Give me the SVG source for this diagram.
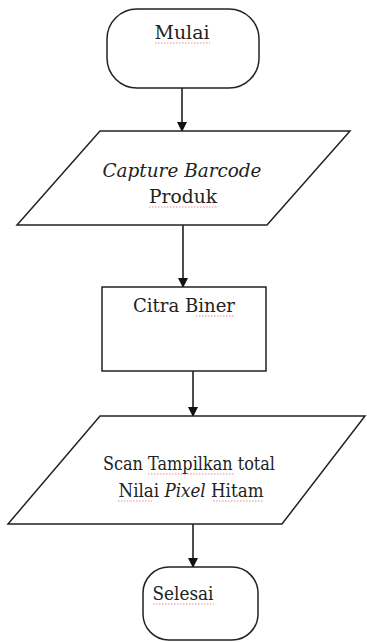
<svg xmlns="http://www.w3.org/2000/svg" width="367" height="642" viewBox="0 0 367 642">
<defs>
<marker id="ah" markerWidth="10" markerHeight="10" refX="9" refY="5" orient="auto" markerUnits="userSpaceOnUse"><path d="M0,0 L10,5 L0,10 Z" fill="#111"/></marker>
<style>
.s{fill:#fff;stroke:#222;stroke-width:1.5}
.t{font-family:'DejaVu Serif','Liberation Serif','Times New Roman',serif;font-size:18px;fill:#222;text-anchor:middle}
.i{font-style:italic}
.c{stroke:#111;stroke-width:1.5;fill:none}
.sq{stroke:#e04040;stroke-width:1;stroke-dasharray:1.5 1.5;fill:none;opacity:0.6}
</style>
</defs>
<rect width="367" height="642" fill="#fff"/>
<g id="connectors">
<line class="c" x1="182" y1="88" x2="182" y2="131" marker-end="url(#ah)"/>
<line class="c" x1="183" y1="225" x2="183" y2="287" marker-end="url(#ah)"/>
<line class="c" x1="193" y1="371" x2="193" y2="416" marker-end="url(#ah)"/>
<line class="c" x1="193" y1="524" x2="193" y2="567" marker-end="url(#ah)"/>
</g>
<g id="mulai">
<rect class="s" x="107" y="9" width="152" height="79" rx="30" ry="30"/>
<text class="t" x="182" y="39" textLength="55" lengthAdjust="spacingAndGlyphs">Mulai</text>
<line class="sq" x1="155" y1="43" x2="210" y2="43"/>
</g>
<g id="capture">
<polygon class="s" points="100,131 350,131 267,225 17,225"/>
<text class="t i" x="182" y="177" textLength="159" lengthAdjust="spacingAndGlyphs">Capture Barcode</text>
<text class="t" x="183" y="203" textLength="68" lengthAdjust="spacingAndGlyphs">Produk</text>
<line class="sq" x1="149" y1="207" x2="217" y2="207"/>
</g>
<g id="citra">
<rect class="s" x="102" y="287" width="164" height="84"/>
<text class="t" x="184" y="312" textLength="102" lengthAdjust="spacingAndGlyphs">Citra Biner</text>
<line class="sq" x1="196" y1="316" x2="235" y2="316"/>
</g>
<g id="scan">
<polygon class="s" points="100,416 365,416 282,524 8,524"/>
<text class="t" x="189" y="470" textLength="172" lengthAdjust="spacingAndGlyphs">Scan Tampilkan total</text>
<text class="t" x="191" y="497" textLength="145" lengthAdjust="spacingAndGlyphs">Nilai <tspan class="i">Pixel</tspan> Hitam</text>
<line class="sq" x1="148" y1="474" x2="234" y2="474"/>
<line class="sq" x1="118" y1="501" x2="152" y2="501"/>
<line class="sq" x1="213" y1="501" x2="263" y2="501"/>
</g>
<g id="selesai">
<rect class="s" x="143" y="567" width="115" height="73" rx="26" ry="26"/>
<text class="t" x="183" y="600" textLength="61" lengthAdjust="spacingAndGlyphs">Selesai</text>
<line class="sq" x1="153" y1="604" x2="214" y2="604"/>
</g>
</svg>
